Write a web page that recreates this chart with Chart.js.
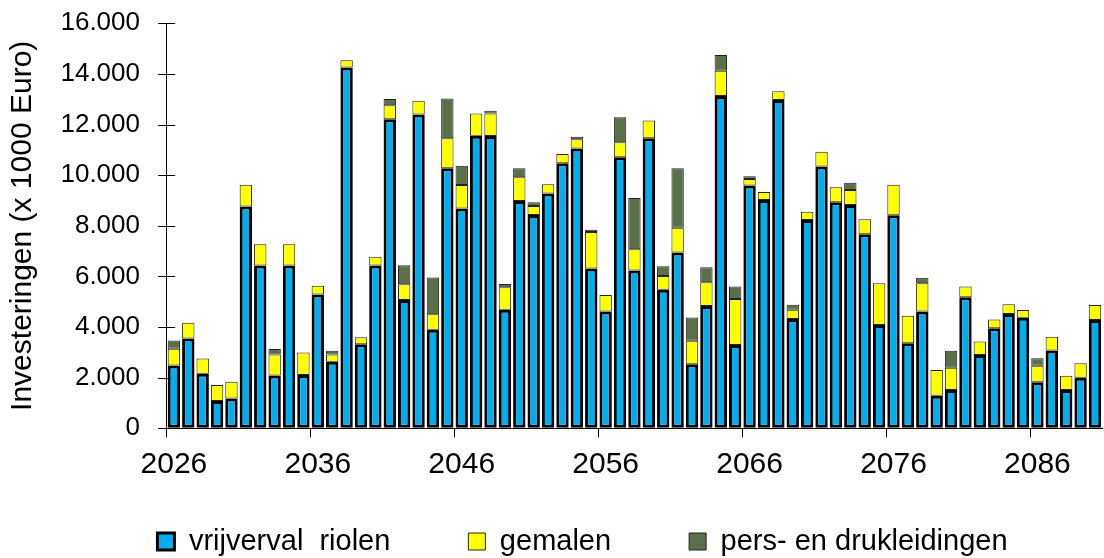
<!DOCTYPE html>
<html><head><meta charset="utf-8">
<script src="https://cdn.jsdelivr.net/npm/chart.js@4"></script>
<style>html,body{margin:0;padding:0;background:#fff;}canvas{display:block;}</style>
</head><body>
<canvas id="c" width="1104" height="558"></canvas>
<script>
const years = ['2026','2027','2028','2029','2030','2031','2032','2033','2034','2035',
  '2036','2037','2038','2039','2040','2041','2042','2043','2044','2045',
  '2046','2047','2048','2049','2050','2051','2052','2053','2054','2055',
  '2056','2057','2058','2059','2060','2061','2062','2063','2064','2065',
  '2066','2067','2068','2069','2070','2071','2072','2073','2074','2075',
  '2076','2077','2078','2079','2080','2081','2082','2083','2084','2085',
  '2086','2087','2088','2089','2090'];
const vrijverval = [2480,3550,2160,1080,1180,8760,6430,2090,6430,2110,
  5290,2630,14250,3320,6430,12210,5070,12400,3890,10270,
  8680,11560,11550,4680,8980,8430,9280,10470,11050,6310,
  4610,10710,6230,11460,5470,6950,2530,4830,13130,3290,
  9590,9020,12970,4320,8230,10340,8930,8820,7670,4080,
  8420,3360,4610,1290,1510,5180,2900,3950,4520,4370,
  1820,3070,1510,2000,4280];
const gemalen = [660,620,600,630,660,860,840,830,840,880,
  340,290,290,280,350,550,620,540,620,1190,
  930,880,890,890,940,350,360,370,370,1450,
  660,590,840,700,550,970,930,940,1000,1820,
  260,320,350,360,330,590,590,590,590,1650,
  1200,1090,1120,1010,880,420,530,350,380,300,
  650,550,570,570,590];
const persDruk = [330,null,null,null,null,null,null,210,null,null,
  null,145,null,null,null,250,750,null,1450,1570,
  760,null,110,130,350,150,null,null,100,80,
  null,990,2030,null,380,2350,920,590,620,490,
  110,null,null,200,null,null,null,290,null,null,
  null,null,220,null,670,null,null,null,null,null,
  300,null,null,null,null];
const seriesNames = ['vrijverval  riolen', 'gemalen', 'pers- en drukleidingen'];
const yMax = 16000, yStep = 2000;
const yTitle = 'Investeringen (x 1000 Euro)';

function fmt(v) { return String(v).replace(/\B(?=(\d{3})+(?!\d))/g, '.'); }

Chart.defaults.font.family = '"Liberation Sans", Arial, sans-serif';
Chart.defaults.color = '#000';

// y-axis tick marks that cross the axis line (Excel style)
const crossTicks = {
  id: 'crossTicks',
  beforeDatasetsDraw(chart) {
    const y = chart.scales.y, ctx = chart.ctx, left = chart.chartArea.left;
    ctx.save(); ctx.strokeStyle = '#000'; ctx.lineWidth = 1;
    y.ticks.forEach(t => {
      const py = Math.round(y.getPixelForValue(t.value)) + 0.5;
      ctx.beginPath(); ctx.moveTo(left - 8.5, py); ctx.lineTo(left + 8.5, py); ctx.stroke();
    });
    ctx.restore();
  }
};
// place legend close under the axis labels
const legendShift = {
  id: 'legendShift',
  afterLayout(chart) {
    const lg = chart.legend;
    const d = lg.top - (chart.chartArea.bottom + 20.7);
    lg.top -= d; lg.bottom -= d;
  }
};

new Chart(document.getElementById('c'), {
  type: 'bar',
  data: {
    labels: years,
    datasets: [
      { label: seriesNames[0], data: vrijverval, backgroundColor: '#00AEEF', borderColor: '#000', borderWidth: 3, borderSkipped: false, barPercentage: 0.86, categoryPercentage: 1 },
      { label: seriesNames[1], data: gemalen, backgroundColor: '#FFFF00', borderColor: '#222', borderWidth: 1, borderSkipped: false, barPercentage: 0.86, categoryPercentage: 1 },
      { label: seriesNames[2], data: persDruk, backgroundColor: '#5A7049', borderColor: '#222', borderWidth: 1, borderSkipped: false, barPercentage: 0.86, categoryPercentage: 1 }
    ]
  },
  options: {
    responsive: false, animation: false, devicePixelRatio: 1,
    layout: { padding: { left: 62.3, right: 1.3, top: 23.3, bottom: -44.3 } },
    plugins: {
      legend: { position: 'bottom', labels: { font: { size: 29 }, boxWidth: 17, boxHeight: 17, padding: 78, color: '#000' } },
      tooltip: { enabled: false }
    },
    scales: {
      x: {
        stacked: true,
        grid: { display: true, drawOnChartArea: false, drawTicks: true, tickLength: 9, offset: true,
          color: (ctx) => (ctx.index % 10 === 0 ? '#000' : 'rgba(0,0,0,0)') },
        border: { display: true, color: '#000', width: 1 },
        ticks: { autoSkip: false, maxRotation: 0, minRotation: 0, padding: 9, font: { size: 30 }, color: '#000',
          callback: (v, i) => (i % 10 === 0 ? years[i] : '') },
        afterFit: (s) => { s.height = 57; }
      },
      y: {
        stacked: true, min: 0, max: yMax,
        ticks: { stepSize: yStep, padding: 0, font: { size: 26 }, color: '#000', callback: (v) => fmt(v) },
        grid: { drawOnChartArea: false, drawTicks: true, tickLength: 26.7, color: 'rgba(0,0,0,0)' },
        border: { display: true, color: '#000', width: 1 },
        title: { display: true, text: yTitle, font: { size: 30 }, color: '#000', padding: { top: -57.7, bottom: 0 } },
        afterFit: (s) => { s.width = 104.4; }
      }
    }
  },
  plugins: [crossTicks, legendShift]
});
</script>
</body></html>
